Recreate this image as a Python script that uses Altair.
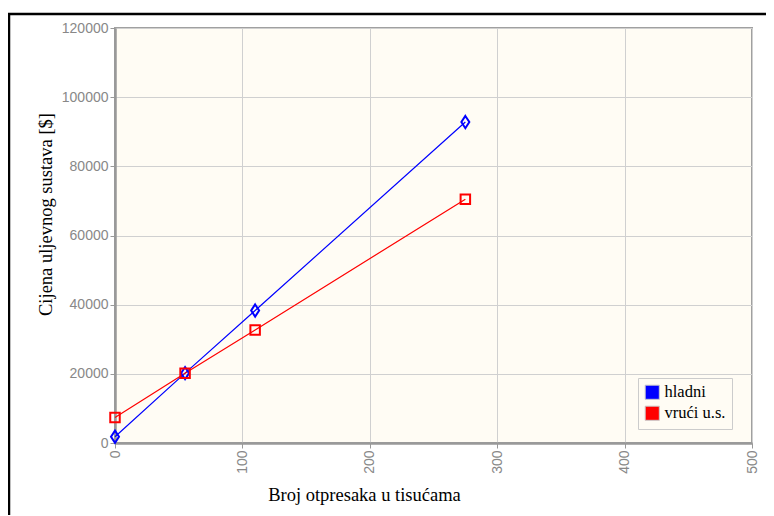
import altair as alt
import pandas as pd

broj = [0, 55, 110, 275]
hladni = [1800, 20200, 38300, 92800]
vruci = [7400, 20200, 32700, 70500]
serije = ["hladni", "vrući u.s."]
boje = ["#0000ff", "#ff0000"]

rows = []
for xv, h, v in zip(broj, hladni, vruci):
    rows.append({"x": xv, "y": h, "s": serije[0]})
    rows.append({"x": xv, "y": v, "s": serije[1]})
df = pd.DataFrame(rows)

xenc = alt.X("x:Q", scale=alt.Scale(domain=[0, 500], nice=False),
             axis=alt.Axis(values=[0, 100, 200, 300, 400, 500], labelAngle=270,
                           title="Broj otpresaka u tisućama",
                           titleX=249, titleY=51, titleBaseline="middle"))
yenc = alt.Y("y:Q", scale=alt.Scale(domain=[0, 120000], nice=False),
             axis=alt.Axis(values=[0, 20000, 40000, 60000, 80000, 100000, 120000],
                           format="d", title="Cijena uljevnog sustava [$]",
                           titleX=-70, titleY=186, titleBaseline="middle"))
color = alt.Color("s:N", title=None,
                  scale=alt.Scale(domain=serije, range=boje),
                  legend=alt.Legend(orient="none", legendX=523, legendY=350,
                                    symbolType="square", symbolSize=200,
                                    symbolStrokeColor="#cccccc", symbolStrokeWidth=1,
                                    symbolOpacity=1,
                                    labelFont="Liberation Serif", labelFontSize=16.5,
                                    labelColor="#000000", padding=6,
                                    fillColor="#fffcf4", strokeColor="#cccccc",
                                    rowPadding=2))

base = alt.Chart(df)
line_h = base.transform_filter(alt.datum.s == serije[0]).mark_line(
    strokeWidth=1.2, color="#0000ff").encode(x=xenc, y=yenc)
line_v = base.transform_filter(alt.datum.s == serije[1]).mark_line(
    strokeWidth=1.2, color="#ff0000").encode(x="x:Q", y="y:Q")
legend_layer = base.mark_square(filled=True, size=0, opacity=1).encode(
    x="x:Q", y="y:Q", color=color)
diam = base.transform_filter(alt.datum.s == serije[0]).mark_point(
    shape="M0,-1L0.65,0L0,1L-0.65,0Z", filled=False, size=150, strokeWidth=2,
    color="#0000ff", opacity=1).encode(x="x:Q", y="y:Q")
sq = base.transform_filter(alt.datum.s == serije[1]).mark_point(
    shape="square", filled=False, size=90, strokeWidth=2,
    color="#ff0000", opacity=1).encode(x="x:Q", y="y:Q")

frame_data = alt.Data(values=[{"a": 1}])
top_line = alt.Chart(frame_data).mark_rule(color="#000000", strokeWidth=2.5).encode(
    x=alt.value(-107), x2=alt.value(700), y=alt.value(-14))
left_line = alt.Chart(frame_data).mark_rule(color="#000000", strokeWidth=2.5).encode(
    x=alt.value(-106), y=alt.value(-15), y2=alt.value(500))

chart = alt.layer(line_h, line_v, legend_layer, diam, sq, top_line, left_line).properties(
    width=637, height=415,
    autosize=alt.AutoSizeParams(type="none"),
    padding={"left": 107, "top": 20, "right": 14, "bottom": 72},
).configure_view(
    fill="#fffcf4", stroke="#a0a0a0", strokeWidth=2
).configure_axis(
    gridColor="#d0d0d0", gridWidth=1,
    domainColor="#999999", domainWidth=2.5,
    tickColor="#999999", tickSize=5,
    labelFont="Liberation Sans", labelFontSize=14, labelColor="#888888",
    titleFont="Liberation Serif", titleFontSize=18.5, titleFontWeight="normal",
    titleColor="#000000"
)

chart.save("out.html", embed_options={"renderer": "svg", "actions": False})
